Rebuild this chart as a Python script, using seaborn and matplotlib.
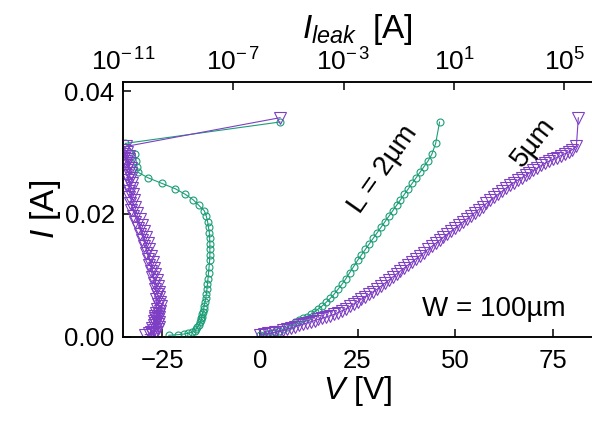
"""I-V curves and leakage current for two channel lengths"""

import matplotlib
matplotlib.use("Agg")
import matplotlib.pyplot as plt
import seaborn as sns

# L = 2um device: sweep voltage [V], drain current [A], leakage current [A]
v_2um = [0, 1, 2, 3, 4, 5, 6, 7, 8, 9, 10, 11, 12, 13, 14, 15, 16, 17, 18, 19,
         20, 21, 22, 23, 24, 25, 26, 27, 28, 29, 30, 31, 32, 33, 34, 35, 36, 37,
         38, 39, 40, 41, 42, 43, 44, 45, 46]
i_2um = [0.0002, 0.0003, 0.0004, 0.0005, 0.0007, 0.0009, 0.0012, 0.0015, 0.0019,
         0.0023, 0.0027, 0.0030, 0.0032, 0.0036, 0.0040, 0.0045, 0.0050, 0.0056,
         0.0062, 0.0069, 0.0077, 0.0085, 0.0094, 0.0104, 0.0114, 0.0124, 0.0133,
         0.0142, 0.0151, 0.0160, 0.0169, 0.0178, 0.0187, 0.0196, 0.0205, 0.0214,
         0.0223, 0.0232, 0.0241, 0.0250, 0.0259, 0.0268, 0.0277, 0.0286, 0.0297,
         0.0315, 0.0350]
leak_2um = [4.5e-10, 1.0e-9, 1.6e-9, 2.2e-9, 3.2e-9, 4.0e-9, 4.5e-9, 5.0e-9, 5.6e-9,
            6.3e-9, 6.8e-9, 7.0e-9, 7.1e-9, 7.4e-9, 7.9e-9, 8.3e-9, 8.9e-9, 9.3e-9,
            1.0e-8, 1.05e-8, 1.1e-8, 1.15e-8, 1.2e-8, 1.26e-8, 1.32e-8, 1.38e-8,
            1.41e-8, 1.41e-8, 1.41e-8, 1.38e-8, 1.35e-8, 1.26e-8, 1.17e-8, 1.05e-8,
            8.9e-9, 5.6e-9, 3.5e-9, 1.8e-9, 7.9e-10, 2.5e-10, 8.0e-11, 3.5e-11,
            3.2e-11, 3.0e-11, 2.8e-11, 1.2e-11, 5.0e-6]

# L = 5um device
v_5um = [0, 1, 2, 3, 4, 5, 6, 7, 8, 9, 10, 11, 12, 13, 14, 15, 16, 17, 18, 19,
         20, 21, 22, 23, 24, 25, 26, 27, 28, 29, 30, 31, 32, 33, 34, 35, 36, 37,
         38, 39, 40, 41, 42, 43, 44, 45, 46, 47, 48, 49, 50, 51, 52, 53, 54, 55,
         56, 57, 58, 59, 60, 61, 62, 63, 64, 65, 66, 67, 68, 69, 70, 71, 72, 73,
         74, 75, 76, 77, 78, 79, 80, 81, 81.5]
i_5um = [0.0003, 0.0004, 0.0005, 0.0006, 0.0007, 0.0008, 0.0010, 0.0012, 0.0014,
         0.0016, 0.0018, 0.0020, 0.0022, 0.0024, 0.0026, 0.0028, 0.0030, 0.0032,
         0.0034, 0.0036, 0.0039, 0.0042, 0.0045, 0.0049, 0.0053, 0.0057, 0.0061,
         0.0065, 0.0069, 0.0073, 0.0077, 0.0082, 0.0087, 0.0092, 0.0097, 0.0102,
         0.0107, 0.0112, 0.0117, 0.0122, 0.0127, 0.0132, 0.0137, 0.0142, 0.0147,
         0.0152, 0.0157, 0.0162, 0.0167, 0.0172, 0.0177, 0.0182, 0.0187, 0.0192,
         0.0197, 0.0202, 0.0207, 0.0212, 0.0217, 0.0222, 0.0227, 0.0232, 0.0237,
         0.0242, 0.0247, 0.0251, 0.0255, 0.0259, 0.0263, 0.0267, 0.0271, 0.0275,
         0.0279, 0.0283, 0.0286, 0.0289, 0.0292, 0.0295, 0.0298, 0.0301, 0.0305,
         0.0310, 0.0357]
leak_5um = [6.3e-11, 1.1e-10, 8.9e-11, 1.4e-10, 1.0e-10, 1.6e-10,
            1.3e-10, 1.8e-10, 1.1e-10, 2.0e-10, 1.3e-10, 1.8e-10, 1.4e-10, 2.0e-10,
            1.3e-10, 1.9e-10, 1.4e-10, 2.1e-10, 1.5e-10, 2.0e-10,
            1.6e-10, 2.2e-10, 1.7e-10, 2.4e-10, 1.8e-10, 2.2e-10, 1.6e-10, 2.1e-10,
            1.7e-10, 2.0e-10,
            1.4e-10, 1.9e-10, 1.3e-10, 1.7e-10, 1.1e-10, 1.5e-10, 1.0e-10, 1.3e-10,
            8.9e-11, 1.2e-10,
            7.9e-11, 1.0e-10, 7.1e-11, 8.9e-11, 6.0e-11, 7.9e-11, 5.0e-11, 6.6e-11,
            4.2e-11, 5.6e-11,
            3.5e-11, 4.8e-11, 2.8e-11, 4.0e-11, 2.4e-11, 3.2e-11, 2.0e-11, 2.8e-11,
            1.8e-11, 2.5e-11,
            1.7e-11, 2.4e-11, 1.6e-11, 2.2e-11, 1.4e-11, 2.1e-11, 1.5e-11, 2.0e-11,
            1.3e-11, 1.9e-11,
            1.4e-11, 2.0e-11, 1.3e-11, 1.8e-11, 1.2e-11, 1.7e-11, 1.1e-11, 1.6e-11,
            1.07e-11, 1.4e-11,
            1.05e-11, 1.26e-11, 5.0e-6]

leak_ticks = [1e-11, 1e-7, 1e-3, 1e1, 1e5]
leak_labels = ["$10^{-\\,11}$", "$10^{-\\,7}$", "$10^{-\\,3}$", "$10^{1}$", "$10^{5}$"]

green = "#1b9e77"
purple = "#7e3fc4"

sns.set_style("ticks")
plt.rcParams["font.family"] = ["Liberation Sans", "DejaVu Sans"]
plt.rcParams["mathtext.fontset"] = "custom"
plt.rcParams["mathtext.rm"] = "Liberation Sans"
plt.rcParams["mathtext.it"] = "Liberation Sans:italic"
plt.rcParams["text.color"] = "black"
plt.rcParams["axes.labelcolor"] = "black"

fig = plt.figure(figsize=(5.92, 4.22), dpi=100)
ax = fig.add_axes([123 / 592, 85.5 / 422, 469 / 592, 255 / 422])
ax_top = ax.twiny()
ax_top.set_xscale("log")

line_kw = dict(sort=False, estimator=None, linewidth=0.8, fillstyle="none",
               markeredgewidth=0.8, legend=False)

# I-V curves on the bottom (linear) axis
sns.lineplot(x=v_2um, y=i_2um, ax=ax, color=green, marker="o", markersize=5,
             markeredgecolor=green, **line_kw)
sns.lineplot(x=v_5um, y=i_5um, ax=ax, color=purple, marker="v", markersize=8.5,
             markeredgecolor=purple, **line_kw)

# leakage on the top (log) axis
sns.lineplot(x=leak_2um, y=i_2um, ax=ax_top, color=green, marker="o",
             markersize=5, markeredgecolor=green, **line_kw)
sns.lineplot(x=leak_5um, y=i_5um, ax=ax_top, color=purple, marker="v",
             markersize=8.5, markeredgecolor=purple, **line_kw)

ax.set_xlim(-35, 85)
ax.set_ylim(0, 0.0416)
ax.set_yticks([0.0, 0.02, 0.04])
ax.set_yticklabels(["0.00", "0.02", "0.04"])
ax.set_xticks([-25, 0, 25, 50, 75])
ax_top.set_xlim(1e-11, 1e6)
ax_top.set_xticks(leak_ticks)
ax_top.set_xticklabels(leak_labels)
ax_top.minorticks_off()
ax_top.set_ylim(0, 0.0416)

for a in (ax, ax_top):
    a.tick_params(direction="in", length=6, width=1.1, labelsize=18.5,
                  colors="black")
    for side in a.spines:
        a.spines[side].set_linewidth(1.1)
        a.spines[side].set_color("black")
    a.spines["right"].set_visible(False)
ax.tick_params(right=False)
ax.tick_params(axis="x", pad=9)
ax.tick_params(axis="y", pad=6)
ax_top.tick_params(axis="x", pad=4, labelsize=19)

ax.set_xlabel("$V$ [V]", fontsize=23, labelpad=1)
ax.set_ylabel("$I$ [A]", fontsize=24, labelpad=1)
ax_top.set_xlabel("$I_{leak}\\;$ [A]", fontsize=24, labelpad=8)
ax_top.set_ylabel("")

ax.text(31.7, 0.0273, "L = 2µm", fontsize=20, rotation=55, ha="center",
        va="center")
ax.text(69.9, 0.0317, "5µm", fontsize=20, rotation=52, ha="center",
        va="center")
ax.text(60, 0.0045, "W = 100µm", fontsize=20, ha="center", va="center")

fig.savefig("out.png", dpi=100)
